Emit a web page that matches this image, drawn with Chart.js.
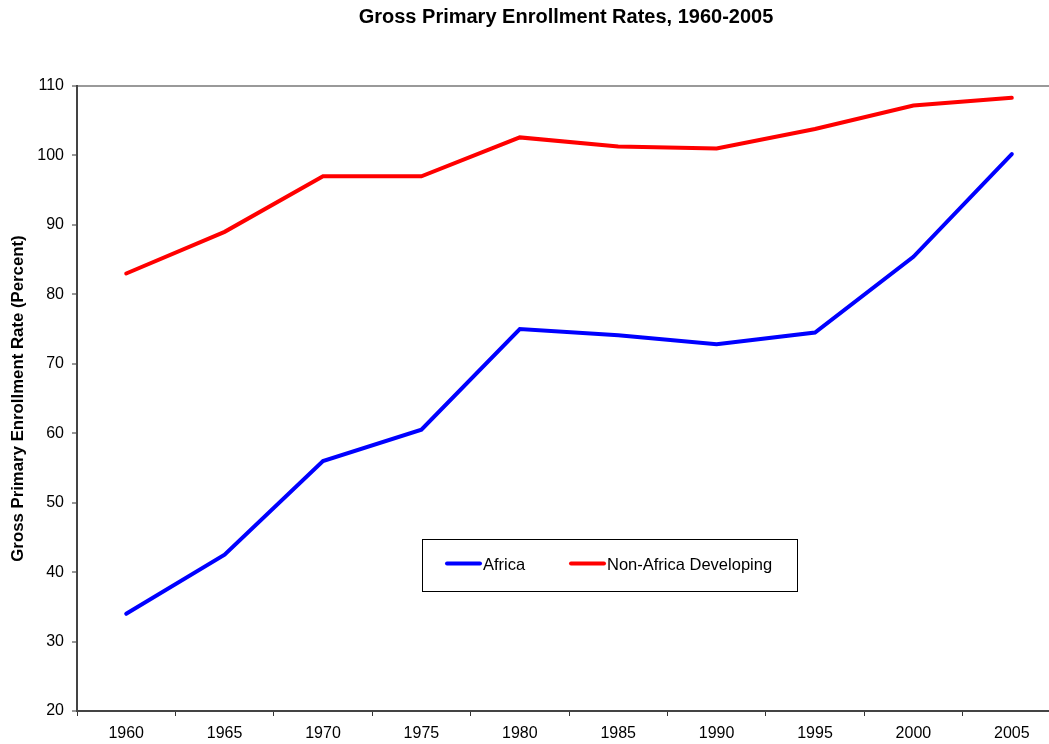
<!DOCTYPE html>
<html>
<head>
<meta charset="utf-8">
<title>Gross Primary Enrollment Rates</title>
<script src="https://cdn.jsdelivr.net/npm/chart.js@4"></script>
<style>
  html, body { margin: 0; padding: 0; background: #fff; overflow: hidden; }
  #wrap { position: relative; width: 1132px; height: 744px; }
</style>
</head>
<body>
<div id="wrap"><canvas id="enrollChart"></canvas></div>
<script>
// data
const years = ['1960', '1965', '1970', '1975', '1980', '1985', '1990', '1995', '2000', '2005'];
const africa = [34.0, 42.5, 56.0, 60.5, 75.0, 74.1, 72.8, 74.5, 85.4, 100.2];
const nonAfrica = [83.0, 89.0, 97.0, 97.0, 102.6, 101.3, 101.0, 103.8, 107.2, 108.3];
const yTicks = [20, 30, 40, 50, 60, 70, 80, 90, 100, 110];

const fontFamily = "'Liberation Sans', Arial, Helvetica, sans-serif";

// boxed legend drawn inside the plot area
const boxLegend = {
    id: 'boxLegend',
    afterDraw(chart) {
        const ctx = chart.ctx;
        const area = chart.chartArea;
        const x = area.left + 345;
        const y = area.top + 453;
        const w = 375, h = 52;
        ctx.save();
        ctx.fillStyle = '#fff';
        ctx.fillRect(x, y, w, h);
        ctx.strokeStyle = '#000';
        ctx.lineWidth = 1;
        ctx.strokeRect(x + 0.5, y + 0.5, w, h);
        const cy = y + 24.5;
        const items = [
            { ds: chart.data.datasets[0], lx: x + 25 },
            { ds: chart.data.datasets[1], lx: x + 149 }
        ];
        ctx.font = '16.5px ' + fontFamily;
        ctx.textBaseline = 'middle';
        ctx.lineCap = 'round';
        items.forEach(it => {
            ctx.strokeStyle = it.ds.borderColor;
            ctx.lineWidth = 4;
            ctx.beginPath();
            ctx.moveTo(it.lx, cy);
            ctx.lineTo(it.lx + 33, cy);
            ctx.stroke();
            ctx.fillStyle = '#000';
            ctx.fillText(it.ds.label, it.lx + 36, cy + 2);
        });
        ctx.restore();
    }
};

const ctx = document.getElementById('enrollChart').getContext('2d');
new Chart(ctx, {
    type: 'line',
    data: {
        labels: years,
        datasets: [
            {
                label: 'Africa',
                data: africa,
                borderColor: '#0000ff',
                borderWidth: 4,
                pointRadius: 0,
                borderCapStyle: 'round',
                tension: 0
            },
            {
                label: 'Non-Africa Developing',
                data: nonAfrica,
                borderColor: '#ff0000',
                borderWidth: 4,
                pointRadius: 0,
                borderCapStyle: 'round',
                tension: 0
            }
        ]
    },
    options: {
        responsive: true,
        maintainAspectRatio: false,
        animation: false,
        layout: { padding: 0 },
        plugins: {
            legend: { display: false },
            tooltip: { enabled: false },
            title: {
                display: true,
                text: 'Gross Primary Enrollment Rates, 1960-2005',
                color: '#000',
                font: { family: fontFamily, size: 20, weight: 'bold' },
                padding: { top: 5, bottom: 57 }
            }
        },
        scales: {
            x: {
                type: 'category',
                offset: true,
                afterFit(scale) {
                    scale.height = 33;
                },
                border: { display: true, color: '#444', width: 2 },
                grid: {
                    offset: true,
                    drawOnChartArea: false,
                    tickLength: 5,
                    tickColor: '#333',
                    tickWidth: 1
                },
                ticks: {
                    color: '#000',
                    font: { family: fontFamily, size: 16 },
                    padding: 8,
                    maxRotation: 0,
                    autoSkip: false
                }
            },
            y: {
                min: 20,
                max: 110,
                afterBuildTicks(scale) {
                    scale.ticks = yTicks.map(v => ({ value: v }));
                },
                afterFit(scale) {
                    scale.width = 77;
                },
                border: { display: true, color: '#444', width: 2 },
                grid: {
                    color: c => (c.tick && c.tick.value === 110 ? '#999' : 'rgba(0,0,0,0)'),
                    lineWidth: 2,
                    tickLength: 5,
                    tickColor: '#333',
                    tickWidth: 1
                },
                ticks: {
                    color: '#000',
                    font: { family: fontFamily, size: 16 },
                    padding: 8
                },
                title: {
                    display: true,
                    text: 'Gross Primary Enrollment Rate (Percent)',
                    color: '#000',
                    font: { family: fontFamily, size: 16.8, weight: 'bold' },
                    padding: { top: 8, bottom: 0 }
                }
            },
            // empty right-hand spacer so the plot runs past the window edge
            spacer: {
                type: 'linear',
                position: 'right',
                afterFit(scale) {
                    scale.width = 71;
                },
                border: { display: false },
                grid: { display: false },
                ticks: { display: false }
            }
        }
    },
    plugins: [boxLegend]
});
</script>
</body>
</html>
